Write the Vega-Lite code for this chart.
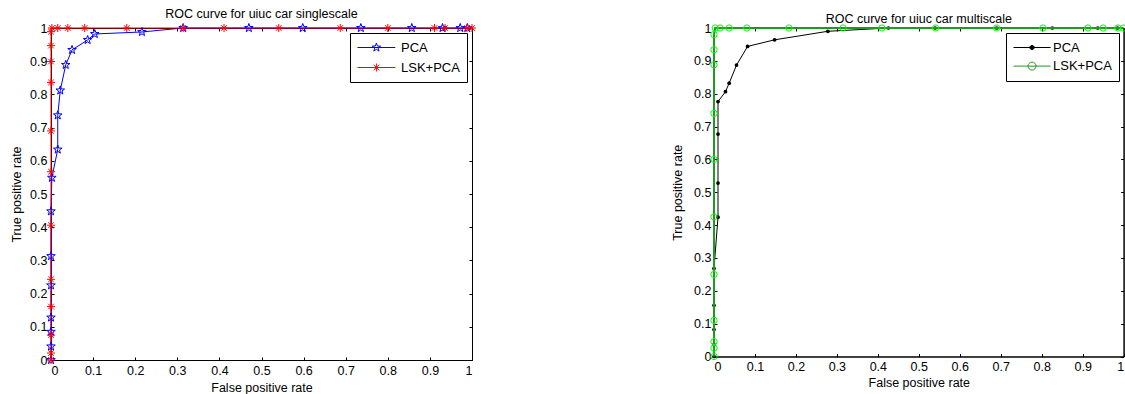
{
  "$schema": "https://vega.github.io/schema/vega-lite/v6.json",
  "padding": {"left": 10, "top": 7, "right": 0, "bottom": 0},
  "background": "white",
  "datasets": {
    "single": [
      {"series": "PCA", "i": 1, "fpr": 0, "tpr": 0},
      {"series": "PCA", "i": 2, "fpr": 0, "tpr": 0.041},
      {"series": "PCA", "i": 3, "fpr": 0, "tpr": 0.085},
      {"series": "PCA", "i": 4, "fpr": 0, "tpr": 0.128},
      {"series": "PCA", "i": 5, "fpr": 0, "tpr": 0.225},
      {"series": "PCA", "i": 6, "fpr": 0, "tpr": 0.313},
      {"series": "PCA", "i": 7, "fpr": 0, "tpr": 0.448},
      {"series": "PCA", "i": 8, "fpr": 0.002, "tpr": 0.549},
      {"series": "PCA", "i": 9, "fpr": 0.016, "tpr": 0.634},
      {"series": "PCA", "i": 10, "fpr": 0.016, "tpr": 0.737},
      {"series": "PCA", "i": 11, "fpr": 0.022, "tpr": 0.812},
      {"series": "PCA", "i": 12, "fpr": 0.035, "tpr": 0.889},
      {"series": "PCA", "i": 13, "fpr": 0.05, "tpr": 0.934},
      {"series": "PCA", "i": 14, "fpr": 0.087, "tpr": 0.964},
      {"series": "PCA", "i": 15, "fpr": 0.104, "tpr": 0.982},
      {"series": "PCA", "i": 16, "fpr": 0.216, "tpr": 0.988},
      {"series": "PCA", "i": 17, "fpr": 0.314, "tpr": 1},
      {"series": "PCA", "i": 18, "fpr": 0.47, "tpr": 1},
      {"series": "PCA", "i": 19, "fpr": 0.598, "tpr": 1},
      {"series": "PCA", "i": 20, "fpr": 0.736, "tpr": 1},
      {"series": "PCA", "i": 21, "fpr": 0.857, "tpr": 1},
      {"series": "PCA", "i": 22, "fpr": 0.93, "tpr": 1},
      {"series": "PCA", "i": 23, "fpr": 0.972, "tpr": 1},
      {"series": "PCA", "i": 24, "fpr": 0.989, "tpr": 1},
      {"series": "LSK+PCA", "i": 1, "fpr": 0, "tpr": 0},
      {"series": "LSK+PCA", "i": 2, "fpr": 0, "tpr": 0.021},
      {"series": "LSK+PCA", "i": 3, "fpr": 0, "tpr": 0.075},
      {"series": "LSK+PCA", "i": 4, "fpr": 0, "tpr": 0.161},
      {"series": "LSK+PCA", "i": 5, "fpr": 0, "tpr": 0.243},
      {"series": "LSK+PCA", "i": 6, "fpr": 0, "tpr": 0.406},
      {"series": "LSK+PCA", "i": 7, "fpr": 0, "tpr": 0.567},
      {"series": "LSK+PCA", "i": 8, "fpr": 0, "tpr": 0.69},
      {"series": "LSK+PCA", "i": 9, "fpr": 0, "tpr": 0.836},
      {"series": "LSK+PCA", "i": 10, "fpr": 0, "tpr": 0.899},
      {"series": "LSK+PCA", "i": 11, "fpr": 0, "tpr": 0.947},
      {"series": "LSK+PCA", "i": 12, "fpr": 0, "tpr": 0.989},
      {"series": "LSK+PCA", "i": 13, "fpr": 0.002, "tpr": 1},
      {"series": "LSK+PCA", "i": 14, "fpr": 0.016, "tpr": 1},
      {"series": "LSK+PCA", "i": 15, "fpr": 0.04, "tpr": 1},
      {"series": "LSK+PCA", "i": 16, "fpr": 0.08, "tpr": 1},
      {"series": "LSK+PCA", "i": 17, "fpr": 0.18, "tpr": 1},
      {"series": "LSK+PCA", "i": 18, "fpr": 0.314, "tpr": 1},
      {"series": "LSK+PCA", "i": 19, "fpr": 0.411, "tpr": 1},
      {"series": "LSK+PCA", "i": 20, "fpr": 0.541, "tpr": 1},
      {"series": "LSK+PCA", "i": 21, "fpr": 0.687, "tpr": 1},
      {"series": "LSK+PCA", "i": 22, "fpr": 0.8, "tpr": 1},
      {"series": "LSK+PCA", "i": 23, "fpr": 0.911, "tpr": 1},
      {"series": "LSK+PCA", "i": 24, "fpr": 0.936, "tpr": 1},
      {"series": "LSK+PCA", "i": 25, "fpr": 0.988, "tpr": 1},
      {"series": "LSK+PCA", "i": 26, "fpr": 1, "tpr": 1}
    ],
    "multi": [
      {"series": "PCA", "i": 1, "fpr": 0, "tpr": 0},
      {"series": "PCA", "i": 2, "fpr": 0, "tpr": 0.036},
      {"series": "PCA", "i": 3, "fpr": 0, "tpr": 0.082},
      {"series": "PCA", "i": 4, "fpr": 0, "tpr": 0.156},
      {"series": "PCA", "i": 5, "fpr": 0, "tpr": 0.268},
      {"series": "PCA", "i": 6, "fpr": 0.0098, "tpr": 0.424},
      {"series": "PCA", "i": 7, "fpr": 0.0098, "tpr": 0.528},
      {"series": "PCA", "i": 8, "fpr": 0.0098, "tpr": 0.677},
      {"series": "PCA", "i": 9, "fpr": 0.0098, "tpr": 0.776},
      {"series": "PCA", "i": 10, "fpr": 0.028, "tpr": 0.806},
      {"series": "PCA", "i": 11, "fpr": 0.037, "tpr": 0.832},
      {"series": "PCA", "i": 12, "fpr": 0.055, "tpr": 0.887},
      {"series": "PCA", "i": 13, "fpr": 0.082, "tpr": 0.944},
      {"series": "PCA", "i": 14, "fpr": 0.148, "tpr": 0.964},
      {"series": "PCA", "i": 15, "fpr": 0.278, "tpr": 0.99},
      {"series": "PCA", "i": 16, "fpr": 0.426, "tpr": 1},
      {"series": "PCA", "i": 17, "fpr": 0.54, "tpr": 1},
      {"series": "PCA", "i": 18, "fpr": 0.69, "tpr": 1},
      {"series": "PCA", "i": 19, "fpr": 0.826, "tpr": 1},
      {"series": "PCA", "i": 20, "fpr": 0.937, "tpr": 1},
      {"series": "PCA", "i": 21, "fpr": 0.985, "tpr": 1},
      {"series": "LSK+PCA", "i": 1, "fpr": 0, "tpr": 0},
      {"series": "LSK+PCA", "i": 2, "fpr": 0, "tpr": 0.026},
      {"series": "LSK+PCA", "i": 3, "fpr": 0, "tpr": 0.045},
      {"series": "LSK+PCA", "i": 4, "fpr": 0, "tpr": 0.11},
      {"series": "LSK+PCA", "i": 5, "fpr": 0, "tpr": 0.25},
      {"series": "LSK+PCA", "i": 6, "fpr": 0, "tpr": 0.425},
      {"series": "LSK+PCA", "i": 7, "fpr": 0, "tpr": 0.6},
      {"series": "LSK+PCA", "i": 8, "fpr": 0, "tpr": 0.74},
      {"series": "LSK+PCA", "i": 9, "fpr": 0, "tpr": 0.888},
      {"series": "LSK+PCA", "i": 10, "fpr": 0, "tpr": 0.934},
      {"series": "LSK+PCA", "i": 11, "fpr": 0, "tpr": 0.98},
      {"series": "LSK+PCA", "i": 12, "fpr": 0.003, "tpr": 1},
      {"series": "LSK+PCA", "i": 13, "fpr": 0.015, "tpr": 1},
      {"series": "LSK+PCA", "i": 14, "fpr": 0.037, "tpr": 1},
      {"series": "LSK+PCA", "i": 15, "fpr": 0.08, "tpr": 1},
      {"series": "LSK+PCA", "i": 16, "fpr": 0.183, "tpr": 1},
      {"series": "LSK+PCA", "i": 17, "fpr": 0.315, "tpr": 1},
      {"series": "LSK+PCA", "i": 18, "fpr": 0.41, "tpr": 1},
      {"series": "LSK+PCA", "i": 19, "fpr": 0.541, "tpr": 1},
      {"series": "LSK+PCA", "i": 20, "fpr": 0.69, "tpr": 1},
      {"series": "LSK+PCA", "i": 21, "fpr": 0.803, "tpr": 1},
      {"series": "LSK+PCA", "i": 22, "fpr": 0.913, "tpr": 1},
      {"series": "LSK+PCA", "i": 23, "fpr": 0.95, "tpr": 1},
      {"series": "LSK+PCA", "i": 24, "fpr": 0.986, "tpr": 1},
      {"series": "LSK+PCA", "i": 25, "fpr": 1, "tpr": 1}
    ]
  },
  "spacing": 192,
  "resolve": {"scale": {"color": "independent", "x": "independent", "y": "independent"}, "legend": {"color": "independent"}},
  "hconcat": [
    {
      "data": {"name": "single"},
      "width": 421,
      "height": 332,
      "title": {"text": "ROC curve for uiuc car singlescale", "offset": 1.5},
      "layer": [
        {
          "mark": {"type": "line", "strokeWidth": 1, "clip": false},
          "encoding": {
            "x": {"field": "fpr", "type": "quantitative", "scale": {"domain": [0, 1], "nice": false, "zero": false},
                  "axis": {"orient": "bottom", "values": [0, 0.1, 0.2, 0.3, 0.4, 0.5, 0.6, 0.7, 0.8, 0.9, 1], "format": "~g", "title": "False positive rate", "labelPadding": 7, "titlePadding": 5}},
            "y": {"field": "tpr", "type": "quantitative", "scale": {"domain": [0, 1], "nice": false, "zero": false},
                  "axis": {"orient": "left", "values": [0, 0.1, 0.2, 0.3, 0.4, 0.5, 0.6, 0.7, 0.8, 0.9, 1], "format": "~g", "title": "True positive rate", "labelPadding": 7, "titlePadding": 6}},
            "order": {"field": "i", "type": "quantitative"},
            "color": {"field": "series", "type": "nominal",
                      "scale": {"domain": ["PCA", "LSK+PCA"], "range": ["#0000ff", "#ff0000"]},
                      "legend": {"title": null, "orient": "top-right", "offset": 5, "padding": 7, "strokeColor": "black", "fillColor": "white",
                                 "symbolSize": 196, "labelOffset": 29, "labelFontSize": 13, "labelColor": "black", "rowPadding": 5,
                                 "encode": {"symbols": {"update": {
                                   "shape": {"signal": "datum.value == 'PCA' ? 'M-1,0H4.4M1.7,-0.64L1.85,-0.207L2.309,-0.198L1.943,0.079L2.076,0.518L1.7,0.256L1.324,0.518L1.457,0.079L1.091,-0.198L1.55,-0.207Z' : 'M-1,0H4.4M1.7,-0.57V0.57M1.13,0H2.27M1.3,-0.4L2.1,0.4M1.3,0.4L2.1,-0.4'"},
                                   "fill": {"value": "transparent"},
                                   "stroke": {"signal": "datum.value == 'PCA' ? '#0000ff' : '#ff0000'"},
                                   "strokeWidth": {"value": 1},
                                   "opacity": {"value": 1}
                                 }}}}}
          }
        },
        {
          "transform": [{"filter": "datum.series == 'PCA'"}],
          "mark": {"type": "point", "shape": "M0,-1L0.235,-0.324L0.951,-0.309L0.380,0.124L0.588,0.809L0,0.4L-0.588,0.809L-0.380,0.124L-0.951,-0.309L-0.235,-0.324Z", "size": 81, "filled": false, "color": "#0000ff", "strokeWidth": 1, "opacity": 1, "clip": false},
          "encoding": {
            "x": {"field": "fpr", "type": "quantitative", "axis": {"orient": "top", "values": [0, 0.1, 0.2, 0.3, 0.4, 0.5, 0.6, 0.7, 0.8, 0.9, 1], "labels": false, "title": null}},
            "y": {"field": "tpr", "type": "quantitative", "axis": {"orient": "right", "values": [0, 0.1, 0.2, 0.3, 0.4, 0.5, 0.6, 0.7, 0.8, 0.9, 1], "labels": false, "title": null}}
          }
        },
        {
          "transform": [{"filter": "datum.series == 'LSK+PCA'"}],
          "mark": {"type": "point", "shape": "M0,-1V1M-1,0H1M-0.7,-0.7L0.7,0.7M-0.7,0.7L0.7,-0.7", "size": 64, "filled": false, "color": "#ff0000", "strokeWidth": 1, "opacity": 1, "clip": false},
          "encoding": {
            "x": {"field": "fpr", "type": "quantitative", "axis": null},
            "y": {"field": "tpr", "type": "quantitative", "axis": null}
          }
        }
      ]
    },
    {
      "data": {"name": "multi"},
      "width": 409.6,
      "height": 328.5,
      "title": {"text": "ROC curve for uiuc car multiscale", "offset": -3.5},
      "layer": [
        {
          "transform": [{"filter": "datum.series == 'PCA'"}],
          "mark": {"type": "line", "strokeWidth": 1, "clip": false},
          "encoding": {
            "x": {"field": "fpr", "type": "quantitative", "scale": {"domain": [0, 1], "nice": false, "zero": false},
                  "axis": {"orient": "bottom", "values": [0, 0.1, 0.2, 0.3, 0.4, 0.5, 0.6, 0.7, 0.8, 0.9, 1], "format": "~g", "title": "False positive rate", "labelPadding": 7, "titlePadding": 3, "labelFlush": true}},
            "y": {"field": "tpr", "type": "quantitative", "scale": {"domain": [0, 1], "nice": false, "zero": false},
                  "axis": {"orient": "left", "values": [0, 0.1, 0.2, 0.3, 0.4, 0.5, 0.6, 0.7, 0.8, 0.9, 1], "format": "~g", "title": "True positive rate", "labelPadding": 6, "titlePadding": 9}},
            "order": {"field": "i", "type": "quantitative"},
            "color": {"field": "series", "type": "nominal",
                      "scale": {"domain": ["PCA", "LSK+PCA"], "range": ["#000000", "#1f9a1f"]},
                      "legend": {"title": null, "orient": "top-right", "offset": 5, "padding": 7, "strokeColor": "black", "fillColor": "white",
                                 "symbolSize": 196, "labelOffset": 25, "labelFontSize": 13, "labelColor": "black", "rowPadding": 3.6,
                                 "encode": {"symbols": {"update": {
                                   "shape": {"signal": "datum.value == 'PCA' ? 'M-1,0H4.3M1.95,0A0.3,0.3 0 1,1 1.35,0A0.3,0.3 0 1,1 1.95,0Z' : 'M-1,0H4.3M2.22,0A0.57,0.57 0 1,1 1.08,0A0.57,0.57 0 1,1 2.22,0'"},
                                   "fill": {"signal": "datum.value == 'PCA' ? 'black' : 'transparent'"},
                                   "stroke": {"signal": "datum.value == 'PCA' ? 'black' : '#00ff00'"},
                                   "strokeWidth": {"value": 1},
                                   "opacity": {"value": 1}
                                 }}}}}
          }
        },
        {
          "transform": [{"filter": "datum.series == 'PCA'"}],
          "mark": {"type": "point", "shape": "circle", "size": 14, "filled": true, "color": "#000000", "opacity": 1, "clip": false},
          "encoding": {
            "x": {"field": "fpr", "type": "quantitative", "axis": {"orient": "top", "values": [0, 0.1, 0.2, 0.3, 0.4, 0.5, 0.6, 0.7, 0.8, 0.9, 1], "labels": false, "title": null}},
            "y": {"field": "tpr", "type": "quantitative", "axis": {"orient": "right", "values": [0, 0.1, 0.2, 0.3, 0.4, 0.5, 0.6, 0.7, 0.8, 0.9, 1], "labels": false, "title": null}}
          }
        },
        {
          "transform": [{"filter": "datum.series == 'LSK+PCA'"}],
          "mark": {"type": "line", "strokeWidth": 2, "clip": false},
          "encoding": {
            "x": {"field": "fpr", "type": "quantitative", "axis": null},
            "y": {"field": "tpr", "type": "quantitative", "axis": null},
            "order": {"field": "i", "type": "quantitative"},
            "color": {"field": "series", "type": "nominal"}
          }
        },
        {
          "transform": [{"filter": "datum.series == 'LSK+PCA'"}],
          "mark": {"type": "point", "shape": "circle", "size": 40, "filled": false, "color": "#00ff00", "strokeWidth": 1, "opacity": 1, "clip": false},
          "encoding": {
            "x": {"field": "fpr", "type": "quantitative", "axis": null},
            "y": {"field": "tpr", "type": "quantitative", "axis": null}
          }
        }
      ]
    }
  ],
  "config": {
    "font": "Liberation Sans",
    "view": {"stroke": "black", "strokeWidth": 1},
    "axis": {"grid": false, "domainColor": "black", "domainWidth": 1, "tickColor": "black", "tickWidth": 1, "tickSize": -3,
             "labelColor": "black", "titleColor": "black", "labelFont": "Liberation Sans", "titleFont": "Liberation Sans",
             "labelFontSize": 12.5, "titleFontSize": 12.5, "titleFontWeight": "normal"},
    "title": {"font": "Liberation Sans", "fontSize": 12.5, "fontWeight": "normal", "color": "black"},
    "legend": {"labelFont": "Liberation Sans"}
  }
}
